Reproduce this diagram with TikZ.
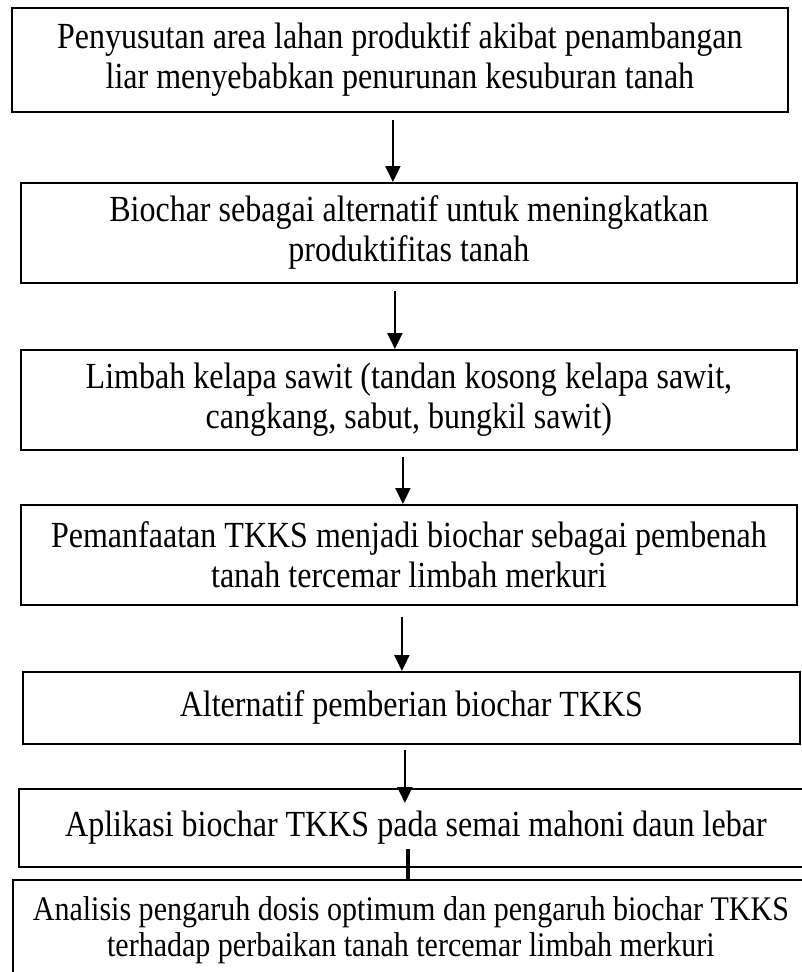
\documentclass[tikz,border=0pt]{standalone}
\usepackage{fontspec}
\setmainfont{Liberation Serif}[FakeStretch=0.87]
\usetikzlibrary{arrows.meta}

\begin{document}
\begin{tikzpicture}[x=1pt, y=-1pt,
    stage/.style={rectangle, draw=black, line width=1.8pt, anchor=north west,
                  minimum width=#1, align=center, inner sep=0pt,
                  font=\fontsize{36.8}{40}\selectfont},
    stage/.default=776pt,
    arrow/.style={-{Triangle[width=15pt, length=16pt]}, line width=2pt, black},
    bar/.style={line width=4.5pt, black}
  ]
    \useasboundingbox (0,0) rectangle (801,972);

    \node[stage, minimum height=104pt] (shrink) at (11,7) {Penyusutan area lahan produktif akibat penambangan\\liar menyebabkan penurunan kesuburan tanah};
    \node[stage, minimum height=100pt] (biochar) at (20,182) {Biochar sebagai alternatif untuk meningkatkan\\produktifitas tanah};
    \node[stage, minimum height=100pt] (waste) at (20,349) {Limbah kelapa sawit (tandan kosong kelapa sawit,\\cangkang, sabut, bungkil sawit)};
    \node[stage, minimum height=100pt] (use) at (20,504) {Pemanfaatan TKKS menjadi biochar sebagai pembenah\\tanah tercemar limbah merkuri};
    \node[stage=777pt, minimum height=72pt] (altern) at (22,671) {Alternatif pemberian biochar TKKS};
    \node[stage=794pt, minimum height=78pt] (apply) at (18,788) {Aplikasi biochar TKKS pada semai mahoni daun lebar};
    \node[stage=796pt, minimum height=100pt, font=\fontsize{34.5}{36}\selectfont] (analysis) at (12,879) {Analisis pengaruh dosis optimum dan pengaruh biochar TKKS\\terhadap perbaikan tanah tercemar limbah merkuri};

    \draw[arrow, shorten <=7pt] ([xshift=-7pt]shrink.south) -- ([xshift=-7pt]shrink.south |- biochar.north);
    \draw[arrow, shorten <=7pt] ([xshift=-14pt]biochar.south) -- ([xshift=-14pt]biochar.south |- waste.north);
    \draw[arrow, shorten <=6pt] ([xshift=-6pt]waste.south) -- ([xshift=-6pt]waste.south |- use.north);
    \draw[arrow, shorten <=11pt] ([xshift=-7pt]use.south) -- ([xshift=-7pt]use.south |- altern.north);
    \draw[arrow, shorten <=5pt, shorten >=-15pt] ([xshift=-6.5pt]altern.south) -- ([xshift=-6.5pt]altern.south |- apply.north);
    \draw[bar] ([xshift=-8pt, yshift=19pt]apply.south) -- ([xshift=-8pt]apply.south |- analysis.north);
  \end{tikzpicture}
\end{document}
